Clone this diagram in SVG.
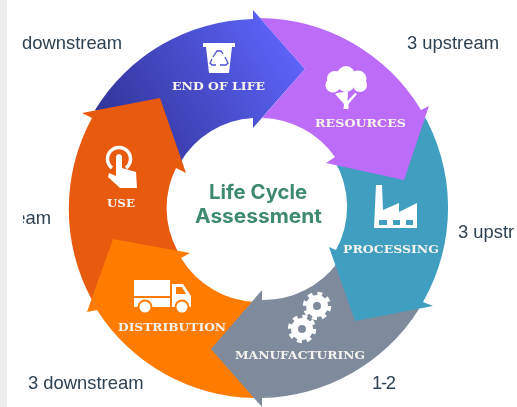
<svg xmlns="http://www.w3.org/2000/svg" width="517" height="407" viewBox="0 0 517 407">
<style>
.lbl{font-family:"DejaVu Serif","Liberation Serif",serif;font-weight:700;font-size:11.800px;fill:#f6f3ee}
.note{font-family:"Liberation Sans",Arial,sans-serif;font-size:18.4px;fill:#2f4252}
.title{font-family:Inter,"Liberation Sans",sans-serif;font-weight:700;font-size:19.5px;fill:#3d8a70}
.ico{fill:#fff}
</style>
<defs>
<linearGradient id="blueGrad" gradientUnits="userSpaceOnUse" x1="130" y1="150" x2="290" y2="50">
<stop offset="0" stop-color="#33369c"/><stop offset="1" stop-color="#5c63f7"/>
</linearGradient>
<clipPath id="clipEam"><rect x="23" y="200" width="40" height="40"/></clipPath>
<clipPath id="clipEdge"><rect x="0" y="210" width="515" height="40"/></clipPath>
<filter id="soft" x="-2%" y="-2%" width="104%" height="104%"><feGaussianBlur stdDeviation="0.4"/></filter>
<g id="gear">
<circle r="7.5" fill="none" stroke="#fff" stroke-width="7"/>
<circle r="12.2" fill="none" stroke="#fff" stroke-width="4" stroke-dasharray="4.8 4.78"/>
</g>
</defs>
<rect width="517" height="407" fill="#fff"/>
<rect width="7" height="407" fill="#eeeeee"/>
<g filter="url(#soft)">
<g id="end-of-life">
<path fill="url(#blueGrad)" d="M95,110 A190,190 0 0 1 253,19 L253,10 L305,69 L253,128 L253,118 A90,90 0 0 0 180,163 Z"/>
<path class="ico" d="M203,43 H235 V47 H232 L229,73 H209 L206,47 H203 Z"/>
<path d="M213,57 L217,51 H221 L223,54 M225,57 L228,63 L226,65 H220 M216,65 H212 L210,63 L212,59" fill="none" stroke="#4c51d6" stroke-width="1.300"/>
<text class="lbl" x="172" y="90" textLength="93" lengthAdjust="spacingAndGlyphs">END OF LIFE</text>
</g>
<g id="use">
<path fill="#e85a10" d="M92,118 L82,113 L160,98 L186,173 L176,168 A90,90 0 0 0 177,250 L180,256 L92,300 A190,190 0 0 1 92,118 Z"/>
<path d="M112,168 A11.500,11.500 0 1 1 126,168" fill="none" stroke="#fff" stroke-width="3.500"/>
<path class="ico" d="M116,156 Q119,152 122,156 V168 L136,172 L137,188 H120 L108,177 L109,173 L116,176 Z"/>
<text class="lbl" x="107" y="207" textLength="28" lengthAdjust="spacingAndGlyphs">USE</text>
</g>
<g id="distribution">
<path fill="#ff7b00" d="M258,392 L254,398 A190,190 0 0 1 97,310 L87,312 L113,239 L190,253 L181,258 A92,92 0 0 0 256,302 Z"/>
<rect class="ico" x="134" y="280" width="36" height="16"/>
<rect class="ico" x="134" y="298" width="36" height="9"/>
<path class="ico" d="M172,284 H183 L191,296 V307 H172 Z"/>
<path d="M176,287 H182 L186,294 H176 Z" fill="#ff7b00"/>
<circle cx="145" cy="307" r="6.500" fill="#fff" stroke="#ff7b00" stroke-width="2"/>
<circle cx="182" cy="307" r="6.500" fill="#fff" stroke="#ff7b00" stroke-width="2"/>
<text class="lbl" x="118" y="331" textLength="108" lengthAdjust="spacingAndGlyphs">DISTRIBUTION</text>
</g>
<g id="manufacturing">
<path fill="#7f8b9c" d="M417,308 L419,309 A190,190 0 0 1 262,398 L262,407 L211,349 L262,290 L262,300 A92,92 0 0 0 338,262 Z"/>
<use href="#gear" x="317" y="306"/>
<use href="#gear" x="302" y="329"/>
<text class="lbl" x="235" y="359" textLength="130" lengthAdjust="spacingAndGlyphs">MANUFACTURING</text>
</g>
<g id="processing">
<path fill="#3f9fc0" d="M421,110 A190,190 0 0 1 423,302 L433,306 L355,321 L329,247 L336,250 A90,90 0 0 0 334,160 Z"/>
<path class="ico" d="M376,185 H382 L383,210 L399,203 V212 L417,203 V228 H374 Z"/>
<path fill="#3f9fc0" d="M379,220 H387 V225 H379 Z M393,220 H400 V225 H393 Z M406,220 H413 V225 H406 Z"/>
<text class="lbl" x="343" y="253" textLength="96" lengthAdjust="spacingAndGlyphs">PROCESSING</text>
</g>
<g id="resources">
<path fill="#bd6cfa" d="M260,18 A190,190 0 0 1 421,110 L429,106 L404,180 L326,163 L335,157 A92,92 0 0 0 262,118 L305,69 Z"/>
<g class="ico">
<circle cx="346" cy="75" r="9"/><circle cx="335" cy="79" r="8"/><circle cx="358" cy="79" r="8.500"/>
<circle cx="333" cy="85" r="7.500"/><circle cx="360" cy="85" r="7"/><circle cx="346" cy="83" r="9"/>
<path d="M344,92 H348 L347.500,101 L355,93 L357,94 L348.500,104 L348.500,109 H343.500 L344,104 L335,94 L337,93 Z"/>
</g>
<text class="lbl" x="315" y="127" textLength="91" lengthAdjust="spacingAndGlyphs">RESOURCES</text>
</g>
<g id="center">
<text class="title" x="209" y="199" textLength="98" lengthAdjust="spacingAndGlyphs">Life Cycle</text>
<text class="title" x="195" y="223" textLength="127" lengthAdjust="spacingAndGlyphs">Assessment</text>
</g>
<g id="notes">
<text class="note" x="22" y="49">downstream</text>
<text class="note" x="407" y="49">3 upstream</text>
<text class="note" x="458" y="238" clip-path="url(#clipEdge)">3 upstr</text>
<text class="note" x="51" y="224" text-anchor="end" clip-path="url(#clipEam)">eam</text>
<text class="note" x="28" y="389">3 downstream</text>
<text class="note" x="372" y="389" textLength="24">1-2</text>
</g>
</g>
</svg>
